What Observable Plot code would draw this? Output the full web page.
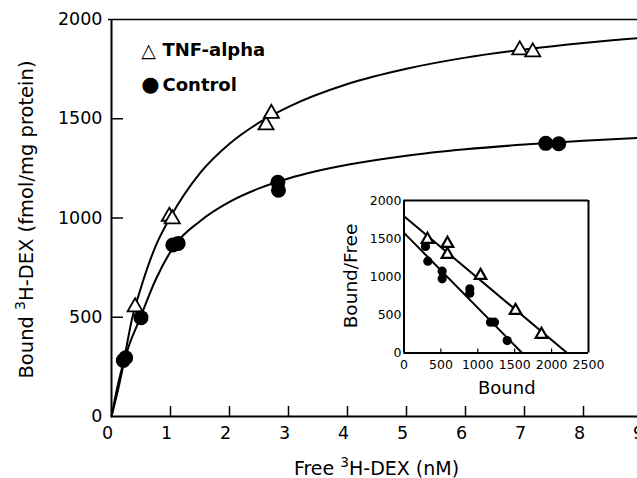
<!DOCTYPE html>
<html>
<head>
<meta charset="utf-8">
<script src="https://cdn.jsdelivr.net/npm/d3@7"></script>
<script src="https://cdn.jsdelivr.net/npm/@observablehq/plot@0.6"></script>
<style>
  html, body { margin: 0; padding: 0; background: white; overflow: hidden; }
  #wrap { position: relative; width: 637px; height: 478px; overflow: hidden; }
  #inset { position: absolute; left: 340px; top: 185px; }
  svg { overflow: hidden; }
</style>
</head>
<body>
<div id="wrap"><div id="main"></div><div id="inset"></div></div>
<script>
// ---- main chart: saturation binding ----
const xTicks = [0, 1, 2, 3, 4, 5, 6, 7, 8, 9];
const yTicks = [0, 500, 1000, 1500, 2000];

// measured points (free nM, bound fmol/mg protein)
const tnfFree  = [0.40, 0.98, 1.03, 2.62, 2.71, 6.92, 7.14];
const tnfBound = [552, 1008, 995, 1468, 1526, 1846, 1836];
const ctrlFree  = [0.20, 0.24, 0.50, 1.04, 1.13, 2.82, 2.83, 7.36, 7.58];
const ctrlBound = [282, 296, 498, 864, 872, 1180, 1140, 1376, 1374];

// fitted curves as drawn
const curveFree     = [0, 0.1, 0.21, 0.35, 0.5, 0.75, 1, 1.5, 2, 2.5, 3, 4, 5, 6, 7, 8, 9, 10];
const tnfCurveBound = [0, 150, 285, 495, 650, 860, 1005, 1226, 1374, 1480, 1560, 1675, 1752, 1808, 1849, 1882, 1908, 1930];
const ctrlCurveFree  = [0, 0.12, 0.22, 0.49, 0.75, 1.08, 1.5, 2, 2.5, 3, 4, 5, 6, 7, 8, 9, 10];
const ctrlCurveBound = [0, 146, 282, 499, 690, 866, 984, 1081, 1149, 1199, 1268, 1314, 1346, 1370, 1389, 1404, 1416];

// ---- inset: Scatchard plot ----
const insetXTicks = [0, 500, 1000, 1500, 2000, 2500];
const insetYTicks = [0, 500, 1000, 1500, 2000];
const scTnfBound = [318, 589, 589, 1037, 1511, 1863];
const scTnfRatio = [1489, 1436, 1292, 1016, 557, 243];
const scCtrlBound = [291, 323, 517, 517, 892, 892, 1172, 1226, 1398];
const scCtrlRatio = [1397, 1204, 1073, 973, 842, 785, 404, 404, 164];
const scTnfLineBound = [0, 2211];
const scTnfLineRatio = [1794, 0];
const scCtrlLineBound = [0, 1601];
const scCtrlLineRatio = [1576, 0];

const zip = (xs, ys) => xs.map((x, i) => ({x, y: ys[i]}));

const tnfPts = zip(tnfFree, tnfBound);
const ctrlPts = zip(ctrlFree, ctrlBound);
const tnfCurve = zip(curveFree, tnfCurveBound);
const ctrlCurve = zip(ctrlCurveFree, ctrlCurveBound);

const font = "DejaVu Sans";

const main = Plot.plot({
  width: 637, height: 478,
  marginLeft: 111, marginRight: 0, marginTop: 19, marginBottom: 62,
  x: {domain: [0, 10], range: [111, 701], label: null},
  y: {domain: [0, 2000], range: [416, 19], label: null},
  style: {fontFamily: font, background: "white", color: "black"},
  marks: [
    Plot.axisX(xTicks, {tickSize: 0, tickPadding: 10.5, fontSize: 17.5, dx: -4, tickFormat: d => String(d)}),
    Plot.axisY(yTicks, {tickSize: 0, tickPadding: 9, fontSize: 17.5, tickFormat: d => String(d)}),
    Plot.ruleX(xTicks.slice(1), {insetTop: 387, strokeWidth: 1.5}),
    Plot.ruleY(yTicks.slice(1, 4), {insetRight: 514, strokeWidth: 1.5}),
    Plot.ruleY([2000], {strokeWidth: 1.5, insetLeft: -3}),
    Plot.ruleX([0], {strokeWidth: 2}),
    Plot.ruleY([0], {strokeWidth: 2}),
    Plot.line(tnfCurve, {x: "x", y: "y", curve: "monotone-x", strokeWidth: 2, stroke: "black"}),
    Plot.line(ctrlCurve, {x: "x", y: "y", curve: "monotone-x", strokeWidth: 2, stroke: "black"}),
    Plot.dot(tnfPts, {x: "x", y: "y", symbol: "triangle", r: 5.6, fill: "white", stroke: "black", strokeWidth: 1.8}),
    Plot.dot(ctrlPts, {x: "x", y: "y", r: 7.5, fill: "black", stroke: "none"}),
    // legend
    Plot.text(["△"], {frameAnchor: "top-left", lineAnchor: "middle", dx: 37, dy: 31, fontSize: 19, textAnchor: "middle"}),
    Plot.text(["TNF-alpha"], {frameAnchor: "top-left", lineAnchor: "middle", dx: 51, dy: 31, fontSize: 18, fontWeight: "bold", textAnchor: "start"}),
    Plot.text(["●"], {frameAnchor: "top-left", lineAnchor: "middle", dx: 39, dy: 64.5, fontSize: 21, textAnchor: "middle"}),
    Plot.text(["Control"], {frameAnchor: "top-left", lineAnchor: "middle", dx: 51, dy: 65.5, fontSize: 18, fontWeight: "bold", textAnchor: "start"}),
    // axis titles
    Plot.text(["Free ³H-DEX (nM)"], {frameAnchor: "bottom-left", lineAnchor: "middle", dx: 265, dy: 52, fontSize: 19, textAnchor: "middle", className: "supt"}),
    Plot.text(["Bound ³H-DEX (fmol/mg protein)"], {frameAnchor: "left", lineAnchor: "middle", dx: -85, dy: 1.5, rotate: -90, fontSize: 19.5, textAnchor: "middle", className: "supt"})
  ]
});
document.getElementById("main").appendChild(main);

// render the "³" of the axis titles as a raised, smaller "3"
d3.select(main).selectAll(".supt text").each(function() {
  const t = d3.select(this);
  const s = t.text();
  const i = s.indexOf("³");
  if (i < 0) return;
  t.text(null);
  t.append("tspan").text(s.slice(0, i));
  t.append("tspan").attr("font-size", "0.72em").attr("dy", "-0.55em").text("3");
  t.append("tspan").attr("dy", "0.4em").text(s.slice(i + 1));
});

const inset = Plot.plot({
  width: 275, height: 215,
  marginLeft: 63.5, marginRight: 27, marginTop: 15, marginBottom: 47.5,
  x: {domain: [0, 2500], range: [63.5, 248], label: null},
  y: {domain: [0, 2000], range: [167.5, 15], label: null},
  style: {fontFamily: font, background: "transparent", color: "black"},
  marks: [
    Plot.ruleY([0, 2000], {x1: 0, x2: 2500, strokeWidth: 2}),
    Plot.ruleX([0, 2500], {y1: 0, y2: 2000, strokeWidth: 2}),
    Plot.axisX(insetXTicks, {tickSize: 0, tickPadding: 7, fontSize: 12.5, tickFormat: d => String(d)}),
    Plot.axisY(insetYTicks, {tickSize: 0, tickPadding: 2.5, fontSize: 12.5, tickFormat: d => String(d)}),
    Plot.ruleX(insetXTicks.slice(1, 5), {insetTop: 148.5, strokeWidth: 1.2}),
    Plot.line(zip(scTnfLineBound, scTnfLineRatio), {x: "x", y: "y", strokeWidth: 2, stroke: "black"}),
    Plot.line(zip(scCtrlLineBound, scCtrlLineRatio), {x: "x", y: "y", strokeWidth: 2, stroke: "black"}),
    Plot.dot(zip(scTnfBound, scTnfRatio), {x: "x", y: "y", symbol: "triangle", r: 4.3, fill: "white", stroke: "black", strokeWidth: 2.2}),
    Plot.dot(zip(scCtrlBound, scCtrlRatio), {x: "x", y: "y", r: 4.6, fill: "black", stroke: "none"}),
    Plot.text(["Bound/Free"], {frameAnchor: "left", lineAnchor: "middle", dx: -52.5, dy: -0.75, rotate: -90, fontSize: 18.5, textAnchor: "middle"}),
    Plot.text(["Bound"], {frameAnchor: "bottom", lineAnchor: "middle", dx: 10.5, dy: 35, fontSize: 18, textAnchor: "middle"})
  ]
});
document.getElementById("inset").appendChild(inset);
</script>
</body>
</html>
